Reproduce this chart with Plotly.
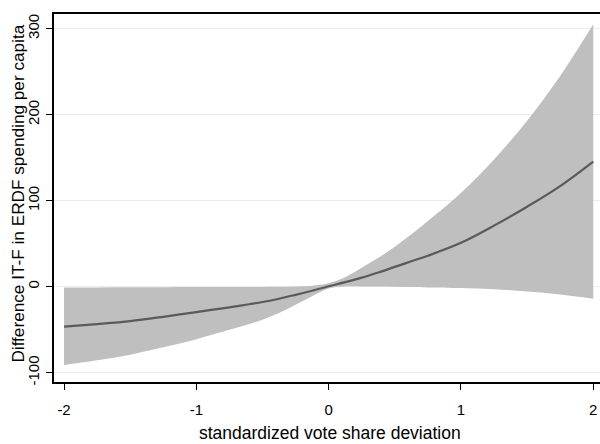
import plotly.graph_objects as go

x_vals = [-2, -1.75, -1.5, -1.25, -1, -0.75, -0.625, -0.5, -0.375, -0.25, -0.125, 0, 0.125, 0.25, 0.375, 0.5, 0.625, 0.75, 1, 1.25, 1.5, 1.75, 2]
mean_vals = [-46.5, -43.5, -40.0, -35.0, -29.5, -24.0, -21.0, -17.8, -14.0, -9.5, -4.7, 0.5, 5.3, 10.5, 16.5, 23.0, 29.5, 36.0, 51.0, 71.0, 93.0, 117.0, 145.5]
lower_vals = [-91.0, -85.5, -79.0, -70.5, -61.0, -50.0, -44.5, -38.5, -30.5, -21.0, -11.0, -2.0, 0.2, 0.3, 0.1, -0.2, -0.5, -0.8, -1.5, -3.0, -5.5, -9.0, -14.0]
upper_vals = [-0.8, -0.8, -0.7, -0.6, -0.5, -0.4, -0.35, -0.3, -0.2, 0.2, 1.2, 4.0, 11.0, 22.0, 33.5, 46.5, 61.0, 76.5, 109.0, 148.0, 193.0, 245.0, 305.0]

x_ticks = [-2, -1, 0, 1, 2]
y_ticks = [-100, 0, 100, 200, 300]

x_title = "standardized vote share deviation"
y_title = "Difference IT-F in ERDF spending per capita"

FONT = "Liberation Sans, Arial, sans-serif"

fig = go.Figure()
fig.add_trace(go.Scatter(x=x_vals, y=lower_vals, mode="lines",
                         line=dict(width=0, color="#bfbfbf", shape="spline", smoothing=1.0),
                         showlegend=False, hoverinfo="skip"))
fig.add_trace(go.Scatter(x=x_vals, y=upper_vals, mode="lines",
                         line=dict(width=0, color="#bfbfbf", shape="spline", smoothing=1.0),
                         fill="tonexty", fillcolor="#bfbfbf",
                         showlegend=False, hoverinfo="skip"))
fig.add_trace(go.Scatter(x=x_vals, y=mean_vals, mode="lines",
                         line=dict(width=2.2, color="#5a5a5a", shape="spline", smoothing=1.0),
                         showlegend=False))

fig.update_layout(
    width=600, height=444,
    margin=dict(l=54, r=0, t=14, b=62),
    paper_bgcolor="white", plot_bgcolor="white",
    font=dict(family=FONT, color="black", size=15),
    xaxis=dict(
        range=[-2.076, 2.051],
        tickvals=x_ticks, ticktext=[str(v) for v in x_ticks],
        ticks="outside", ticklen=6, tickwidth=1, tickcolor="black",
        ticklabelstandoff=7,
        showline=True, linecolor="black", linewidth=1.5, mirror=True,
        showgrid=False, zeroline=False,
        tickfont=dict(size=15),
    ),
    yaxis=dict(
        range=[-110.8, 317],
        tickvals=y_ticks, ticktext=[str(v) for v in y_ticks],
        tickangle=-90,
        ticks="outside", ticklen=6, tickwidth=1, tickcolor="black",
        ticklabelstandoff=1,
        showline=True, linecolor="black", linewidth=1.5, mirror=False,
        showgrid=True, gridcolor="#e6eef0", gridwidth=1,
        zeroline=False,
        tickfont=dict(size=15),
    ),
    annotations=[
        dict(text=x_title, xref="paper", yref="paper", x=0.5046, y=-0.1386,
             xanchor="center", yanchor="middle", showarrow=False,
             font=dict(size=17.5, family=FONT, color="black")),
        dict(text=y_title, xref="paper", yref="paper", x=-0.0659, y=0.512,
             xanchor="center", yanchor="middle", textangle=-90, showarrow=False,
             font=dict(size=17.2, family=FONT, color="black")),
    ],
)

fig.write_html("out.html")
